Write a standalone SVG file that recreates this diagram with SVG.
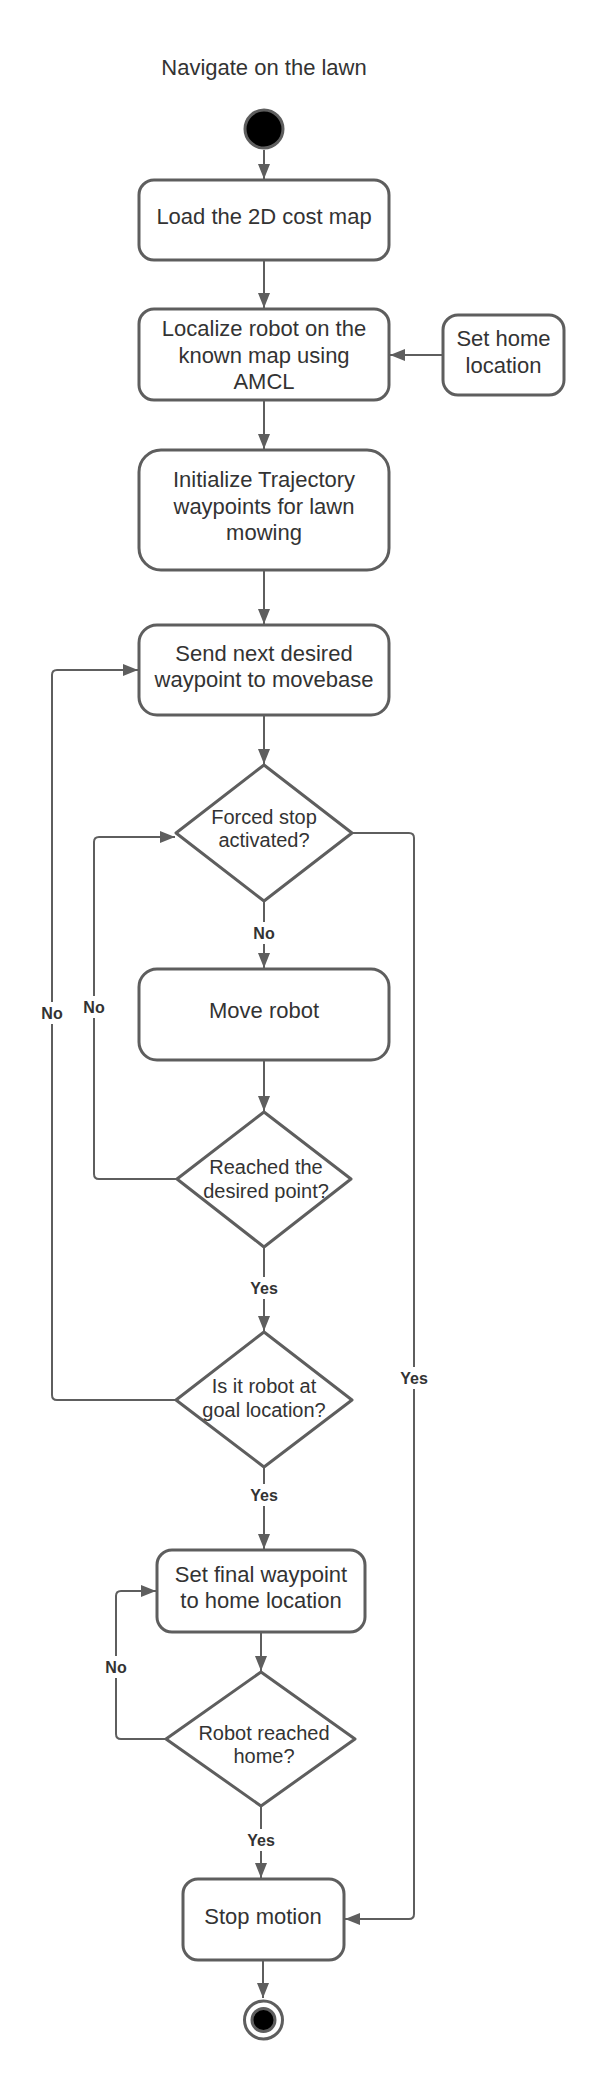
<svg xmlns="http://www.w3.org/2000/svg" width="604" height="2080" viewBox="0 0 604 2080">
<style>
.shape{fill:#fff;stroke:#5e5e5e;stroke-width:3;stroke-linejoin:round}
.line{fill:none;stroke:#5e5e5e;stroke-width:2}
.t{font-family:"Liberation Sans",Arial,sans-serif;font-size:22px;fill:#333;text-anchor:middle}
.d{font-family:"Liberation Sans",Arial,sans-serif;font-size:20px;fill:#333;text-anchor:middle}
.lbl{font-family:"Liberation Sans",Arial,sans-serif;font-size:16px;font-weight:bold;fill:#333;text-anchor:middle}
.bg{fill:#fff}
</style>
<defs>
<marker id="arr" markerUnits="userSpaceOnUse" markerWidth="16" markerHeight="14" refX="15" refY="6" orient="auto">
<path d="M0,0 L15,6 L0,12 z" fill="#5e5e5e"/>
</marker>
</defs>
<rect width="604" height="2080" fill="#fff"/>
<text class="t" x="264" y="75">Navigate on the lawn</text>

<g id="connectors">
<path class="line" d="M264,150 V179" marker-end="url(#arr)"/>
<path class="line" d="M264,260 V308" marker-end="url(#arr)"/>
<path class="line" d="M443,355 H390" marker-end="url(#arr)"/>
<path class="line" d="M264,400 V449" marker-end="url(#arr)"/>
<path class="line" d="M264,570 V624" marker-end="url(#arr)"/>
<path class="line" d="M264,715 V764" marker-end="url(#arr)"/>
<path class="line" d="M264,901 V968" marker-end="url(#arr)"/>
<path class="line" d="M264,1060 V1111" marker-end="url(#arr)"/>
<path class="line" d="M264,1247 V1331" marker-end="url(#arr)"/>
<path class="line" d="M177,1179 H99 Q94,1179 94,1174 V842 Q94,837 99,837 H175" marker-end="url(#arr)"/>
<path class="line" d="M176,1400 H57 Q52,1400 52,1395 V675 Q52,670 57,670 H138" marker-end="url(#arr)"/>
<path class="line" d="M352,833 H409 Q414,833 414,838 V1914 Q414,1919 409,1919 H345" marker-end="url(#arr)"/>
<path class="line" d="M264,1467 V1549" marker-end="url(#arr)"/>
<path class="line" d="M261,1632 V1671" marker-end="url(#arr)"/>
<path class="line" d="M166,1739 H121 Q116,1739 116,1734 V1596 Q116,1591 121,1591 H156" marker-end="url(#arr)"/>
<path class="line" d="M261,1806 V1878" marker-end="url(#arr)"/>
<path class="line" d="M263,1960 V1998" marker-end="url(#arr)"/>
<rect class="bg" x="250" y="922" width="28" height="22"/>
<text class="lbl" x="264" y="939">No</text>
<rect class="bg" x="248" y="1277" width="32" height="22"/>
<text class="lbl" x="264" y="1294">Yes</text>
<rect class="bg" x="80" y="996" width="28" height="22"/>
<text class="lbl" x="94" y="1013">No</text>
<rect class="bg" x="38" y="1002" width="28" height="22"/>
<text class="lbl" x="52" y="1019">No</text>
<rect class="bg" x="398" y="1367" width="32" height="22"/>
<text class="lbl" x="414" y="1384">Yes</text>
<rect class="bg" x="248" y="1484" width="32" height="22"/>
<text class="lbl" x="264" y="1501">Yes</text>
<rect class="bg" x="102" y="1656" width="28" height="22"/>
<text class="lbl" x="116" y="1673">No</text>
<rect class="bg" x="245" y="1829" width="32" height="22"/>
<text class="lbl" x="261" y="1846">Yes</text>
</g>

<g id="start"><circle cx="264" cy="129" r="19" fill="#000" stroke="#5e5e5e" stroke-width="3"/></g>

<g id="load-map">
<rect class="shape" x="139" y="180" width="250" height="80" rx="15"/>
<text class="t" x="264" y="224">Load the 2D cost map</text>
</g>

<g id="localize">
<rect class="shape" x="139" y="309" width="250" height="91" rx="15"/>
<text class="t" x="264" y="336">Localize robot on the</text>
<text class="t" x="264" y="363">known map using</text>
<text class="t" x="264" y="389">AMCL</text>
</g>

<g id="set-home">
<rect class="shape" x="443" y="315" width="121" height="80" rx="15"/>
<text class="t" x="503.5" y="346">Set home</text>
<text class="t" x="503.5" y="373">location</text>
</g>

<g id="init-traj">
<rect class="shape" x="139" y="450" width="250" height="120" rx="22"/>
<text class="t" x="264" y="487">Initialize Trajectory</text>
<text class="t" x="264" y="514">waypoints for lawn</text>
<text class="t" x="264" y="540">mowing</text>
</g>

<g id="send-waypoint">
<rect class="shape" x="139" y="625" width="250" height="90" rx="18"/>
<text class="t" x="264" y="661">Send next desired</text>
<text class="t" x="264" y="687">waypoint to movebase</text>
</g>

<g id="forced-stop">
<polygon class="shape" points="264,765 352,833 264,901 176,833"/>
<text class="d" x="264" y="824">Forced stop</text>
<text class="d" x="264" y="847">activated?</text>
</g>

<g id="move-robot">
<rect class="shape" x="139" y="969" width="250" height="91" rx="18"/>
<text class="t" x="264" y="1018">Move robot</text>
</g>

<g id="reached-point">
<polygon class="shape" points="264,1112 351,1179 264,1247 177,1179"/>
<text class="d" x="266" y="1174">Reached the</text>
<text class="d" x="266" y="1198">desired point?</text>
</g>

<g id="goal-location">
<polygon class="shape" points="264,1332 352,1400 264,1467 176,1400"/>
<text class="d" x="264" y="1393">Is it robot at</text>
<text class="d" x="264" y="1417">goal location?</text>
</g>

<g id="final-waypoint">
<rect class="shape" x="157" y="1550" width="208" height="82" rx="15"/>
<text class="t" x="261" y="1582">Set final waypoint</text>
<text class="t" x="261" y="1608">to home location</text>
</g>

<g id="reached-home">
<polygon class="shape" points="261,1672 355,1739 261,1806 166,1739"/>
<text class="d" x="264" y="1740">Robot reached</text>
<text class="d" x="264" y="1763">home?</text>
</g>

<g id="stop-motion">
<rect class="shape" x="183" y="1879" width="161" height="81" rx="15"/>
<text class="t" x="263" y="1924">Stop motion</text>
</g>

<g id="end">
<circle cx="263.5" cy="2020" r="19" fill="#fff" stroke="#5e5e5e" stroke-width="3"/>
<circle cx="263.5" cy="2020" r="11.5" fill="#000" stroke="#5e5e5e" stroke-width="3"/>
</g>
</svg>
